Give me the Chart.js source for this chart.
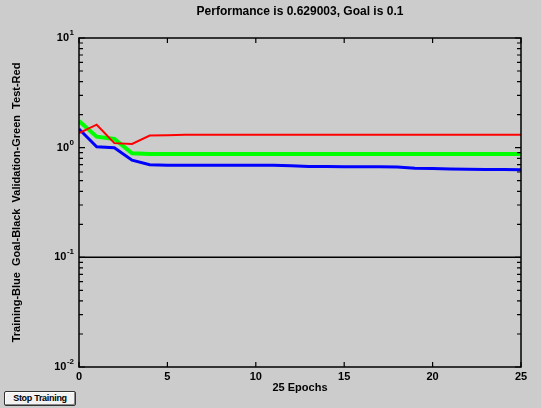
<!DOCTYPE html>
<html>
<head>
<meta charset="utf-8">
<script src="https://cdn.jsdelivr.net/npm/chart.js@4/dist/chart.umd.min.js"></script>
<style>
  html, body { margin: 0; padding: 0; background: #cccccc; }
  #wrap { position: relative; width: 541px; height: 408px; }
  canvas { display: block; }
  #stopBtn {
    position: absolute; left: 4px; top: 391px; width: 72px; height: 15px;
    box-sizing: border-box; border: 1px solid #333; border-radius: 2px;
    background: #f2f2f2; font: bold 9px "Liberation Sans", Arial, sans-serif;
    color: #000; text-align: center; line-height: 13px; letter-spacing: -0.3px;
    box-shadow: inset -1px -1px 0 #888, inset 1px 1px 0 #fff;
  }
</style>
</head>
<body>
<div id="wrap">
  <canvas id="c" width="541" height="408"></canvas>
  <div id="stopBtn">Stop Training</div>
</div>
<script>
// ---- data ----
const epochs = [0,1,2,3,4,5,6,7,8,9,10,11,12,13,14,15,16,17,18,19,20,21,22,23,24,25];
const trainBlue = [1.48,1.02,1.0,0.77,0.70,0.69,0.69,0.69,0.69,0.69,0.69,0.69,0.685,0.675,0.675,0.67,0.67,0.67,0.665,0.65,0.645,0.64,0.635,0.633,0.631,0.629];
const validGreen = [1.75,1.26,1.2,0.89,0.875,0.875,0.875,0.875,0.875,0.875,0.875,0.875,0.875,0.875,0.875,0.875,0.875,0.875,0.875,0.875,0.875,0.875,0.875,0.875,0.875,0.875];
const testRed = [1.36,1.62,1.1,1.08,1.29,1.3,1.31,1.31,1.31,1.31,1.31,1.31,1.31,1.31,1.31,1.31,1.31,1.31,1.31,1.31,1.31,1.31,1.31,1.31,1.31,1.31];
const goalEpochs = [0,25];
const goalValues = [0.1,0.1];
const xTicks = [0,5,10,15,20,25];
const yDecades = [0.01,0.1,1,10];
const yExponents = ['-2','-1','0','1'];
const titleText = 'Performance is 0.629003, Goal is 0.1';
const xTitle = '25 Epochs';
const yTitle = 'Training-Blue  Goal-Black  Validation-Green  Test-Red';

const pts = (xs, ys) => xs.map((x, i) => ({x: x, y: ys[i]}));

const FONT = '"Liberation Sans", Arial, sans-serif';

const framePlugin = {
  id: 'frame',
  afterDatasetsDraw(chart) {
    const {ctx, chartArea: a, scales} = chart;
    const xs = scales.x, ys = scales.y;
    ctx.save();
    ctx.strokeStyle = '#000';
    ctx.lineWidth = 1.5;
    ctx.strokeRect(a.left, a.top, a.right - a.left, a.bottom - a.top);
    ctx.lineWidth = 1.2;
    ctx.beginPath();
    xTicks.forEach(v => {
      const p = xs.getPixelForValue(v);
      ctx.moveTo(p, a.bottom); ctx.lineTo(p, a.bottom - 5);
      ctx.moveTo(p, a.top); ctx.lineTo(p, a.top + 5);
    });
    for (let d = 0; d < yDecades.length; d++) {
      const base = yDecades[d];
      for (let k = 1; k <= 9; k++) {
        if (d === yDecades.length - 1 && k > 1) break;
        const p = ys.getPixelForValue(base * k);
        const len = k === 1 ? 6 : 4;
        ctx.moveTo(a.left, p); ctx.lineTo(a.left + len, p);
        ctx.moveTo(a.right, p); ctx.lineTo(a.right - len, p);
      }
    }
    ctx.stroke();

    // y tick labels: "10" with raised exponent
    ctx.fillStyle = '#000';
    ctx.textBaseline = 'alphabetic';
    yDecades.forEach((v, i) => {
      const p = ys.getPixelForValue(v);
      const right = a.left - 5;
      ctx.font = 'bold 8px ' + FONT;
      ctx.textAlign = 'right';
      const exp = yExponents[i];
      const ew = ctx.measureText(exp).width;
      ctx.fillText(exp, right, p - 3);
      ctx.font = 'bold 11px ' + FONT;
      ctx.fillText('10', right - ew - 0.5, p + 3);
    });

    // title centred over plot area
    ctx.font = 'bold 12px ' + FONT;
    ctx.textAlign = 'center';
    ctx.textBaseline = 'middle';
    ctx.fillText(titleText, (a.left + a.right) / 2, 12);
    ctx.restore();
  }
};

new Chart(document.getElementById('c'), {
  type: 'line',
  data: {
    datasets: [
      { label: 'Test', data: pts(epochs, testRed), borderColor: '#ff0000', borderWidth: 2, pointRadius: 0, tension: 0 },
      { label: 'Validation', data: pts(epochs, validGreen), borderColor: '#00ff00', borderWidth: 4, pointRadius: 0, tension: 0 },
      { label: 'Training', data: pts(epochs, trainBlue), borderColor: '#0000ff', borderWidth: 3, pointRadius: 0, tension: 0 },
      { label: 'Goal', data: pts(goalEpochs, goalValues), borderColor: '#000000', borderWidth: 1.5, pointRadius: 0, tension: 0 }
    ]
  },
  options: {
    responsive: false,
    animation: false,
    events: [],
    layout: { padding: { left: 0, right: 20, top: 38, bottom: 0 } },
    plugins: {
      legend: { display: false },
      tooltip: { enabled: false },
      title: { display: false }
    },
    scales: {
      x: {
        type: 'linear', min: 0, max: 25,
        afterFit(s) { s.height = 41; },
        afterBuildTicks(s) { s.ticks = xTicks.map(v => ({value: v})); },
        grid: { display: false, drawTicks: false },
        border: { display: false },
        ticks: { color: '#000', padding: 3, maxRotation: 0, font: { family: FONT, size: 11, weight: 'bold' } },
        title: { display: true, text: xTitle, color: '#000', padding: { top: 0, bottom: 13 }, font: { family: FONT, size: 11, weight: 'bold' } }
      },
      y: {
        type: 'logarithmic', min: 0.01, max: 10,
        afterFit(s) { s.width = 79; },
        afterBuildTicks(s) { s.ticks = yDecades.map(v => ({value: v})); },
        grid: { display: false, drawTicks: false },
        border: { display: false },
        ticks: { display: false },
        title: { display: true, text: yTitle, color: '#000', padding: { top: 10, bottom: 0 }, font: { family: FONT, size: 11, weight: 'bold' } }
      }
    }
  },
  plugins: [framePlugin]
});
</script>
</body>
</html>
